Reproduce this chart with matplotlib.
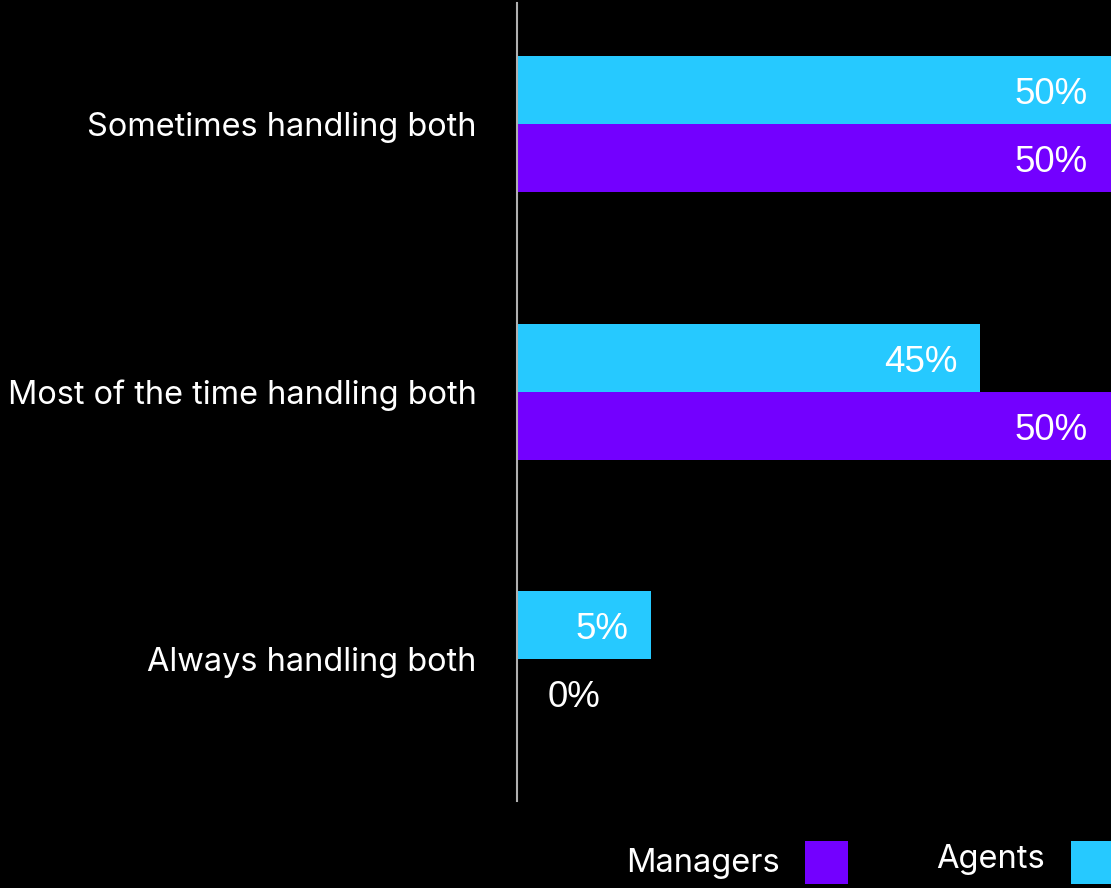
import numpy as np
import matplotlib
matplotlib.use('Agg')
import matplotlib.pyplot as plt
from matplotlib.patches import Rectangle

# ─────────── data ───────────
categories = ['Sometimes handling both', 'Most of the time handling both', 'Always handling both']
agents     = [50, 45, 5]
managers   = [50, 50, 0]
series_names = ['Managers', 'Agents']

AGENT_COL   = '#26C9FF'
MANAGER_COL = '#7300FF'

# bar lengths in the source are not proportional to the labels,
# so mimic its uneven value axis with a piecewise scale
scale_vals = [0, 5, 45, 50]
scale_pos  = [0, 134, 463, 594]

def fwd(v):
    return np.interp(v, scale_vals, scale_pos)

def inv(p):
    return np.interp(p, scale_pos, scale_vals)

# ─────────── figure ───────────
W, H = 1111, 888
fig = plt.figure(figsize=(W / 100, H / 100), dpi=100, facecolor='black')
ax = fig.add_axes([517 / W, 1 - 801 / H, 1 - 517 / W, 798 / H], facecolor='black')
ax.set_xscale('function', functions=(fwd, inv))

y = np.arange(len(categories))
h = 0.254
ax.barh(y - h / 2, agents, height=h, color=AGENT_COL, linewidth=0)
ax.barh(y + h / 2, managers, height=h, color=MANAGER_COL, linewidth=0)

ax.set_xlim(0, 50)
ax.set_ylim(2.53, -0.452)

# value labels
lab_font = dict(family='Liberation Sans', size=26.5, color='white')
for yy, vals in ((y - h / 2, agents), (y + h / 2, managers)):
    for yi, v in zip(yy, vals):
        if v > 0:
            ax.annotate(f'{v}%', (v, yi), xytext=(-16.5, -0.5), textcoords='offset points',
                        ha='right', va='center_baseline', **lab_font)
        else:
            ax.annotate(f'{v}%', (v, yi), xytext=(22, 0), textcoords='offset points',
                        ha='left', va='center_baseline', **lab_font)

# category labels
ax.set_yticks(y)
ax.set_yticklabels(categories, family='Inter', fontsize=23.4, color='white')
ax.tick_params(axis='y', length=0, pad=29)
ax.set_xticks([])
for s in ('top', 'right', 'bottom'):
    ax.spines[s].set_visible(False)
ax.spines['left'].set_color('#B0B0B0')
ax.spines['left'].set_linewidth(1.5)

# legend drawn by hand (square after text)
leg_font = dict(family='Inter', size=23.5, color='white', va='center', ha='right')
fig.text(780 / W, 1 - 863 / H, series_names[0], **leg_font)
fig.add_artist(Rectangle((805 / W, 1 - 884 / H), 43 / W, 43 / H,
                         transform=fig.transFigure, color=MANAGER_COL, lw=0))
fig.text(1045 / W, 1 - 859 / H, series_names[1], **leg_font)
fig.add_artist(Rectangle((1071 / W, 1 - 884 / H), 43 / W, 43 / H,
                         transform=fig.transFigure, color=AGENT_COL, lw=0))

fig.savefig('out.png', dpi=100, facecolor='black')
